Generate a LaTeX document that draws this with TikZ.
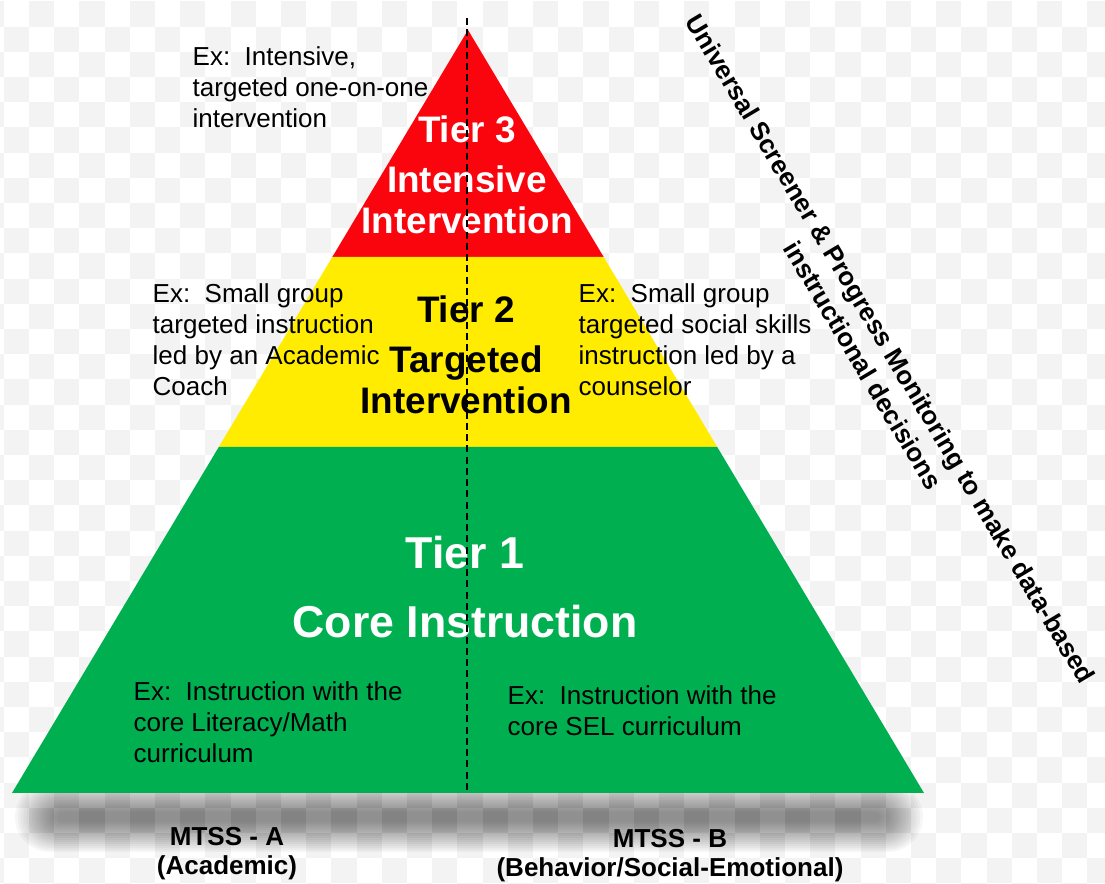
\documentclass[tikz,border=0pt]{standalone}
\usepackage{fontspec}
\setmainfont{Liberation Sans}
\usetikzlibrary{calc}

\definecolor{tierred}{RGB}{250,4,14}
\definecolor{tieryellow}{RGB}{255,236,0}
\definecolor{tiergreen}{RGB}{0,176,80}
\definecolor{checkgrey}{RGB}{243,243,243}

\tikzset{
	exnote/.style = {anchor = base west, align = left, inner sep = 0pt, font = \fontsize{7.4}{8.9}\selectfont},
	tiertitle/.style = {anchor = base, align = center, inner sep = 0pt, font = \bfseries\fontsize{10.5}{11.7}\selectfont},
	mtss/.style = {anchor = base, align = center, inner sep = 0pt, font = \bfseries\fontsize{7.4}{8.25}\selectfont},
	midline/.style = {black, line width = 0.45pt, dash pattern = on 2pt off 1.2pt}
}

\begin{document}
\begin{tikzpicture}

	\useasboundingbox (0, 0) rectangle (11.05, 8.84);

	%%% FUNDO %%%

	\begin{scope}
		\clip (0, 0) rectangle (11.05, 8.84); % Area da figura
		\foreach \r in {0,...,35}{
			\foreach \k in {0,...,22}{
				\pgfmathsetmacro{\cx}{0.038 + (-1 + mod(\r, 2) + 2*\k)*0.252}
				\fill[checkgrey] (\cx, 8.825 - \r*0.252) rectangle ++(0.252, -0.252);
			}
		}
	\end{scope}

	% Sombra da base
	\foreach \i in {0,...,15}{
		\pgfmathsetmacro{\hw}{4.54 - \i*0.028}
		\pgfmathsetmacro{\hh}{0.35 - \i*0.02}
		\fill[black, opacity = 0.034, rounded corners = \hh cm] (4.69 - \hw, 0.67 - \hh) rectangle (4.69 + \hw, 0.67 + \hh);
	}

	%%% PIRAMIDE %%%

	\coordinate (apex) at (4.68, 8.54);
	\coordinate (bl)   at (0.12, 0.91);
	\coordinate (br)   at (9.24, 0.91);

	\coordinate (l3) at ($(apex)!0.2975!(bl)$);
	\coordinate (r3) at ($(apex)!0.2975!(br)$);
	\coordinate (l2) at ($(apex)!0.5465!(bl)$);
	\coordinate (r2) at ($(apex)!0.5465!(br)$);

	\fill[tierred]    (apex) -- (r3) -- (l3) -- cycle;
	\fill[tieryellow] (l3) -- (r3) -- (r2) -- (l2) -- cycle;
	\fill[tiergreen]  (l2) -- (r2) -- (br) -- (bl) -- cycle;

	%%% TEXTOS %%%

	\node[tiertitle, white] (tier3) at (4.67, 6.50) {Tier 3\\[2.7pt]Intensive\\Intervention};
	\node[tiertitle, black] (tier2) at (4.66, 4.70) {Tier 2\\[2.7pt]Targeted\\Intervention};
	\node[tiertitle, white, font = \bfseries\fontsize{12.7}{19.9}\selectfont] (tier1) at (4.65, 2.46) {Tier 1\\Core Instruction};

	\node[exnote] (ex3)  at (1.92, 7.56) {Ex:\ \ Intensive,\\targeted one-on-one\\intervention};
	\node[exnote] (ex2a) at (1.52, 4.88) {Ex:\ \ Small group\\targeted instruction\\led by an Academic\\Coach};
	\node[exnote] (ex2b) at (5.78, 4.88) {Ex:\ \ Small group\\targeted social skills\\instruction led by a\\counselor};
	\node[exnote] (ex1a) at (1.33, 1.21) {Ex:\ \ Instruction with the\\core Literacy/Math\\curriculum};
	\node[exnote] (ex1b) at (5.07, 1.48) {Ex:\ \ Instruction with the\\core SEL curriculum};

	\node[mtss] (mtssa) at (2.27, 0.09) {MTSS - A\\(Academic)};
	\node[mtss] (mtssb) at (6.70, 0.07) {MTSS - B\\(Behavior/Social-Emotional)};

	\node[rotate = -59.2, align = center, inner sep = 0pt, font = \bfseries\fontsize{7.4}{9.1}\selectfont] (monitor) at (8.77, 5.27) {Universal Screener \& Progress Monitoring to make data-based\\instructional decisions};

	% Linha central
	\coordinate (midtop) at (4.67, 8.66);
	\coordinate (midbot) at (4.67, 0.91);
	\draw[midline] (midtop) -- (midbot);

\end{tikzpicture}
\end{document}
